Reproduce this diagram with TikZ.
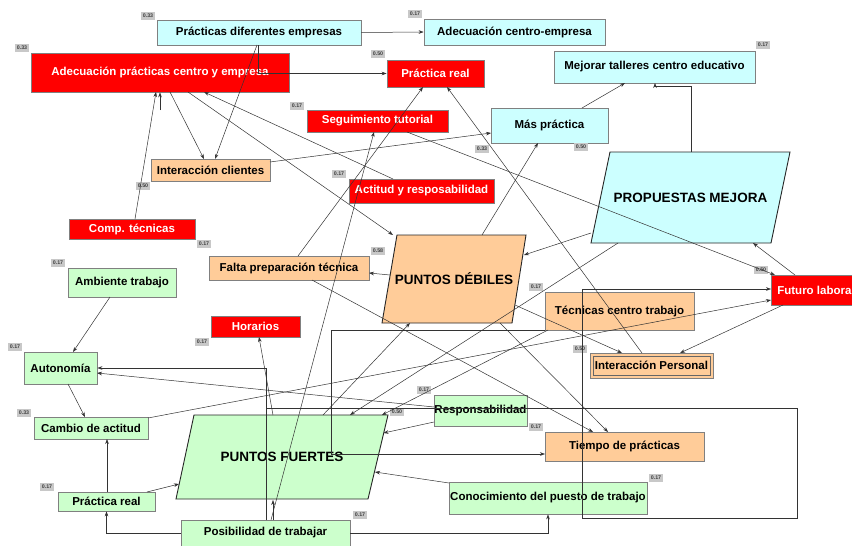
\documentclass[tikz,border=0pt]{standalone}
\usepackage{fontspec}
\setmainfont{Liberation Sans}
\usetikzlibrary{arrows.meta}
\definecolor{cy}{HTML}{CCFFFF}
\definecolor{rd}{HTML}{FF0000}
\definecolor{og}{HTML}{FFCC99}
\definecolor{gn}{HTML}{CCFFCC}
\definecolor{bd}{HTML}{808080}
\definecolor{lb}{HTML}{C8C8C8}
\tikzset{
  box/.style={draw=bd, line width=0.8pt, inner sep=0pt, align=center,
    font=\fontsize{11.5}{13}\selectfont\bfseries},
  cbox/.style={box, fill=cy},
  rbox/.style={box, fill=rd, text=white},
  obox/.style={box, fill=og},
  gbox/.style={box, fill=gn},
  pgram/.style={draw=black!85, line width=0.9pt},
  big/.style={inner sep=0pt, font=\fontsize{13.5}{15}\selectfont\bfseries},
  val/.style={fill=lb, inner sep=0pt, minimum width=14pt, minimum height=8.5pt,
    font=\fontsize{5.3}{6}\selectfont\bfseries, text=black!75},
  edge/.style={draw=black!80, line width=0.5pt},
  arr/.style={edge, -{Stealth[length=5pt,width=3.6pt]}}
}
\begin{document}
\begin{tikzpicture}[x=1pt,y=-1pt]
\useasboundingbox (0,0) rectangle (852,546);
\clip (0,0) rectangle (852,546);
\fill[white] (0,0) rectangle (852,546);

% parallelograms
\filldraw[pgram, fill=cy] (610,152) -- (790,152) -- (771,243) -- (591,243) -- cycle;
\node[big] (pm) at (690.5,197.5) {PROPUESTAS MEJORA};
\filldraw[pgram, fill=og] (397,235) -- (526,235) -- (512,323) -- (382,323) -- cycle;
\node[big] (pd) at (454,279) {PUNTOS DÉBILES};
\filldraw[pgram, fill=gn] (194,415) -- (388,415) -- (368,499) -- (176,499) -- cycle;
\node[big] (pf) at (282,457) {PUNTOS FUERTES};

% boxes
\node[cbox, minimum width=204pt, minimum height=25pt] (pde) at (259,32.5) {Prácticas diferentes empresas};
\node[cbox, minimum width=181pt, minimum height=26pt] (ace) at (514.5,32) {Adecuación centro-empresa};
\node[rbox, minimum width=258pt, minimum height=39pt] (adp) at (160,72.5) {Adecuación prácticas centro y empresa};
\node[rbox, minimum width=97pt, minimum height=27pt] (prr) at (435.5,73.5) {Práctica real};
\node[cbox, minimum width=201pt, minimum height=32pt] (mtc) at (654.5,67) {Mejorar talleres centro educativo};
\node[rbox, minimum width=141pt, minimum height=22pt] (seg) at (377.5,121) {Seguimiento tutorial};
\node[cbox, minimum width=117pt, minimum height=35pt] (mas) at (549.5,125.5) {Más práctica};
\node[obox, minimum width=119pt, minimum height=22pt] (icl) at (210.5,170) {Interacción clientes};
\node[rbox, minimum width=145pt, minimum height=24pt] (act) at (421.5,191) {Actitud y resposabilidad};
\node[rbox, minimum width=126pt, minimum height=20pt] (cmp) at (132,229) {Comp. técnicas};
\node[obox, minimum width=160pt, minimum height=24pt] (fpt) at (289,268) {Falta preparación técnica};
\node[gbox, minimum width=108pt, minimum height=29pt] (amb) at (122,282.5) {Ambiente trabajo};
\node[rbox, minimum width=90pt, minimum height=30pt] (ful) at (816,290) {Futuro laboral};
\node[obox, minimum width=149pt, minimum height=38pt] (tct) at (619.5,311) {Técnicas centro trabajo};
\node[rbox, minimum width=89pt, minimum height=21pt] (hor) at (255.5,326.5) {Horarios};
\node[obox, minimum width=123pt, minimum height=25pt] (ipe) at (651.5,365.5) {Interacción Personal};
\draw[draw=bd!80!black, line width=0.8pt] ([shift={(3.5,3.5)}]ipe.north west) rectangle ([shift={(-3.5,-3.5)}]ipe.south east);
\node[gbox, minimum width=73pt, minimum height=32pt] (aut) at (60.5,368) {Autonomía};
\node[gbox, minimum width=93pt, minimum height=31pt] (res) at (480.5,410.5) {Responsabilidad};
\node[gbox, minimum width=114pt, minimum height=22pt] (cda) at (91,428) {Cambio de actitud};
\node[obox, minimum width=159pt, minimum height=29pt] (tdp) at (624.5,446.5) {Tiempo de prácticas};
\node[gbox, minimum width=97pt, minimum height=19pt] (prv) at (106.5,501.5) {Práctica real};
\node[gbox, minimum width=198pt, minimum height=32pt] (con) at (548,498) {Conocimiento del puesto de trabajo};
\node[gbox, minimum width=169pt, minimum height=26pt] (pos) at (265.5,533) {Posibilidad de trabajar};

% value labels
\node[val] (v1) at (148,16) {0.33};
\node[val] (v2) at (415,14) {0.17};
\node[val] (v3) at (22,48) {0.33};
\node[val] (v4) at (378,54) {0.50};
\node[val] (v5) at (763,45) {0.17};
\node[val] (v6) at (297,106) {0.17};
\node[val] (v7) at (482,149) {0.33};
\node[val] (v8) at (581,147) {0.50};
\node[val] (v9) at (143,186) {0.50};
\node[val] (v10) at (339,174) {0.17};
\node[val] (v11) at (204,244) {0.17};
\node[val] (v12) at (378,251) {0.58};
\node[val] (v13) at (58,263) {0.17};
\node[val] (v14) at (761,270) {0.50};
\node[val] (v15) at (536,287) {0.17};
\node[val] (v16) at (202,342) {0.17};
\node[val] (v17) at (15,347) {0.17};
\node[val] (v18) at (580,349) {0.50};
\node[val] (v19) at (424,390) {0.17};
\node[val] (v20) at (24,413) {0.33};
\node[val] (v21) at (397,412) {0.50};
\node[val] (v22) at (536,427) {0.17};
\node[val] (v23) at (47,487) {0.17};
\node[val] (v24) at (656,478) {0.17};
\node[val] (v25) at (360,515) {0.17};

% connectors
\draw[arr] (pde.east) -- (ace.west);
\draw[arr] ([shift={(-1,0)}]pde.south) |- (prr.west);
\draw[arr] ([shift={(-2,12.5)}]pde.center) -- ([shift={(4.5,-11)}]icl.center);
\draw[arr] ([shift={(10,19.5)}]adp.center) -- ([shift={(-6.5,-11)}]icl.center);
\draw[arr] ([shift={(28,19.5)}]adp.center) -- ([shift={(-61,-44)}]pd.center);
\draw[arr] ([shift={(-28.5,-12)}]act.center) -- ([shift={(44,19.5)}]adp.center);
\draw[arr] ([shift={(3,-10)}]cmp.center) -- ([shift={(-4,19.5)}]adp.center);
\coordinate (stub) at (160,110);
\draw[arr] (stub) -- (adp.south);
\draw[arr] ([shift={(59.5,-8)}]icl.center) -- ([shift={(-58.5,7.5)}]mas.center);
\draw[arr] ([shift={(29.5,11)}]seg.center) -- ([shift={(-41,-15)}]ful.center);
\draw[arr] ([shift={(9,-12)}]fpt.center) -- ([shift={(-12.5,13.5)}]prr.center);
\draw[arr] ([shift={(-9.5,-12.5)}]ipe.center) -- ([shift={(11.5,13.5)}]prr.center);
\draw[arr] ([shift={(5.5,-13)}]pos.center) -- ([shift={(-3.5,11)}]seg.center);
\draw[arr] ([shift={(28,-44)}]pd.center) -- ([shift={(-11.5,17.5)}]mas.center);
\draw[arr] ([shift={(32.5,-17.5)}]mas.center) -- ([shift={(-29.5,16)}]mtc.center);
\draw[arr] ([shift={(0.5,-45.5)}]pm.center) |- ([shift={(0.5,19)}]mtc.center) -- ([shift={(0.5,16)}]mtc.center);
\draw[arr] ([shift={(-99.5,35.5)}]pm.center) -- ([shift={(70,-24)}]pd.center);
\draw[arr] ([shift={(-72.5,45.5)}]pm.center) -- ([shift={(68,-42)}]pf.center);
\draw[arr] ([shift={(-71.5,19)}]tct.center) -- ([shift={(100,-42)}]pf.center);
\draw[arr] ([shift={(-21,-15)}]ful.center) -- ([shift={(62.5,45.5)}]pm.center);
\draw[arr] ([shift={(-33,15)}]ful.center) -- ([shift={(28.5,-12.5)}]ipe.center);
\draw[arr] ([shift={(57,-10)}]cda.center) -- ([shift={(-45,10)}]ful.center);
\draw[arr] ([shift={(0.5,-13)}]pos.center) -- (266,408) -- (797,408) -- (797,518) -- (582,518) -- (582,289) -- ([shift={(-45,-1)}]ful.center);
\draw[arr] ([shift={(0.5,-13)}]pos.center) |- (aut.east);
\draw[arr] ([shift={(-64,-4)}]pd.center) -- ([shift={(80,5)}]fpt.center);
\draw[arr] ([shift={(61,26)}]pd.center) -- ([shift={(-29.5,-12.5)}]ipe.center);
\draw[arr] ([shift={(46,44)}]pd.center) -- ([shift={(-16.5,-14.5)}]tdp.center);
\draw[arr] ([shift={(23,12)}]fpt.center) -- ([shift={(-31.5,-14.5)}]tdp.center);
\draw[arr] ([shift={(41,-42)}]pf.center) -- ([shift={(-44,44)}]pd.center);
\draw[arr] ([shift={(-9,-42)}]pf.center) -- ([shift={(3.5,10.5)}]hor.center);
\draw[arr] ([shift={(49,-3)}]pf.center) -- ([shift={(-79.5,7.5)}]tdp.center);
\draw[edge] ([shift={(49,-3)}]pf.center) |- (tct.south west);
\draw[arr] ([shift={(-46.5,11.5)}]res.center) -- ([shift={(101.5,-24)}]pf.center);
\draw[arr] ([shift={(-46.5,-3.5)}]res.center) -- ([shift={(36.5,5)}]aut.center);
\draw[arr] ([shift={(-99,-15)}]con.center) -- ([shift={(93,15)}]pf.center);
\draw[arr] (pos.east) -| (con.south);
\draw[arr] (pos.west) -| (prv.south);
\draw[arr] ([shift={(7.5,-13)}]pos.center) -- ([shift={(-9,43)}]pf.center);
\draw[arr] ([shift={(40.5,-9.5)}]prv.center) -- ([shift={(-103,27)}]pf.center);
\draw[arr] ([shift={(0.5,-9.5)}]prv.center) -- ([shift={(16,11)}]cda.center);
\draw[arr] ([shift={(7.5,16)}]aut.center) -- ([shift={(-6,-11)}]cda.center);
\draw[arr] ([shift={(-12,14.5)}]amb.center) -- ([shift={(12.5,-16)}]aut.center);
\end{tikzpicture}
\end{document}
